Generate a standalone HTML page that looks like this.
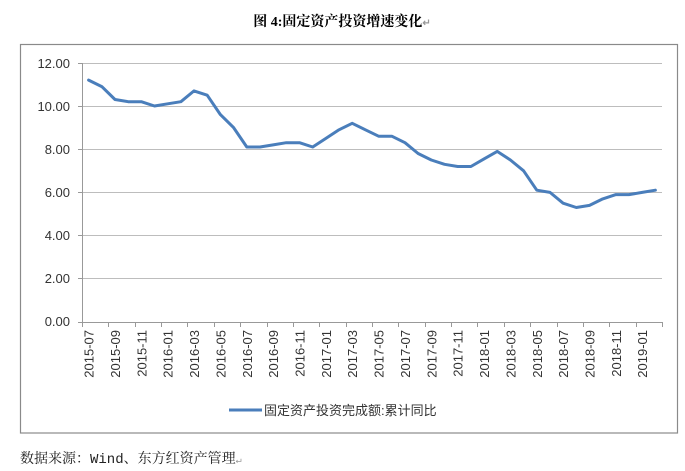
<!DOCTYPE html>
<html><head><meta charset="utf-8"><style>
body{margin:0;background:#fff;}
svg{display:block;}
</style></head><body>
<svg width="685" height="471" xmlns="http://www.w3.org/2000/svg">
<text x="342" y="26" text-anchor="middle" font-family="'Liberation Serif','Noto Serif CJK SC',serif" font-weight="bold" font-size="14">图 4:固定资产投资增速变化<tspan fill="#999" font-size="10">↵</tspan></text>
<rect x="20.5" y="44.5" width="657" height="388.5" fill="#fff" stroke="#8a8a8a" stroke-width="1.2"/>
<g stroke="#bdbdbd" stroke-width="1">
<line x1="82" y1="63.5" x2="662" y2="63.5"/>
<line x1="82" y1="106.5" x2="662" y2="106.5"/>
<line x1="82" y1="149.5" x2="662" y2="149.5"/>
<line x1="82" y1="192.5" x2="662" y2="192.5"/>
<line x1="82" y1="235.5" x2="662" y2="235.5"/>
<line x1="82" y1="278.5" x2="662" y2="278.5"/>
</g>
<g stroke="#999" stroke-width="1">
<line x1="82.5" y1="63" x2="82.5" y2="322"/>
<line x1="78" y1="322.5" x2="662" y2="322.5"/>
<line x1="78" y1="63.5" x2="82" y2="63.5"/>
<line x1="78" y1="106.5" x2="82" y2="106.5"/>
<line x1="78" y1="149.5" x2="82" y2="149.5"/>
<line x1="78" y1="192.5" x2="82" y2="192.5"/>
<line x1="78" y1="235.5" x2="82" y2="235.5"/>
<line x1="78" y1="278.5" x2="82" y2="278.5"/>
</g>
<g font-family="'Liberation Sans',sans-serif" font-size="13" fill="#333" text-anchor="end">
<text x="70" y="68">12.00</text>
<text x="70" y="111">10.00</text>
<text x="70" y="154">8.00</text>
<text x="70" y="197">6.00</text>
<text x="70" y="240">4.00</text>
<text x="70" y="283">2.00</text>
<text x="70" y="326">0.00</text>
</g>
<g id="ticks" stroke="#999"></g>
<g id="xl" font-family="'Liberation Sans',sans-serif" font-size="13" fill="#333"></g>
<polyline id="ln" fill="none" stroke="#4a7ebb" stroke-width="3" stroke-linejoin="round" stroke-linecap="round"/>
<line x1="229" y1="410" x2="262" y2="410" stroke="#4a7ebb" stroke-width="3"/>
<text x="264" y="415" font-family="'Liberation Sans','Noto Sans CJK SC',sans-serif" font-size="13" fill="#333">固定资产投资完成额:累计同比</text>
<text x="20" y="463" font-family="'Liberation Mono','Noto Serif CJK SC',monospace" font-size="14" fill="#222">数据来源：Wind、东方红资产管理<tspan fill="#999" font-size="10">↵</tspan></text>
</svg>
<script>
var d=[11.2,10.9,10.3,10.2,10.2,10.0,10.1,10.2,10.7,10.5,9.6,9.0,8.1,8.1,8.2,8.3,8.3,8.1,8.5,8.9,9.2,8.9,8.6,8.6,8.3,7.8,7.5,7.3,7.2,7.2,7.55,7.9,7.5,7.0,6.1,6.0,5.5,5.3,5.4,5.7,5.9,5.9,6.0,6.1];
var w=580/44,pts=[],ns="http://www.w3.org/2000/svg";
for(var i=0;i<44;i++){pts.push((82+w*(i+0.5)).toFixed(1)+","+(322-d[i]*21.6).toFixed(1));}
document.getElementById("ln").setAttribute("points",pts.join(" "));
var t=document.getElementById("ticks"),xl=document.getElementById("xl");
for(var i=0;i<=44;i+=2){var l=document.createElementNS(ns,"line");var x=Math.round(82+w*i)+0.5;l.setAttribute("x1",x);l.setAttribute("x2",x);l.setAttribute("y1",322);l.setAttribute("y2",327);t.appendChild(l);}
for(var i=0;i<44;i+=2){var y=2015,m=7+i;y+=Math.floor((m-1)/12);m=(m-1)%12+1;var s=y+"-"+(m<10?"0":"")+m;
var tx=document.createElementNS(ns,"text");var x=82+w*(i+0.5)+5;tx.setAttribute("transform","translate("+x.toFixed(1)+",330) rotate(-90)");tx.setAttribute("text-anchor","end");tx.textContent=s;xl.appendChild(tx);}
</script>
</body></html>
